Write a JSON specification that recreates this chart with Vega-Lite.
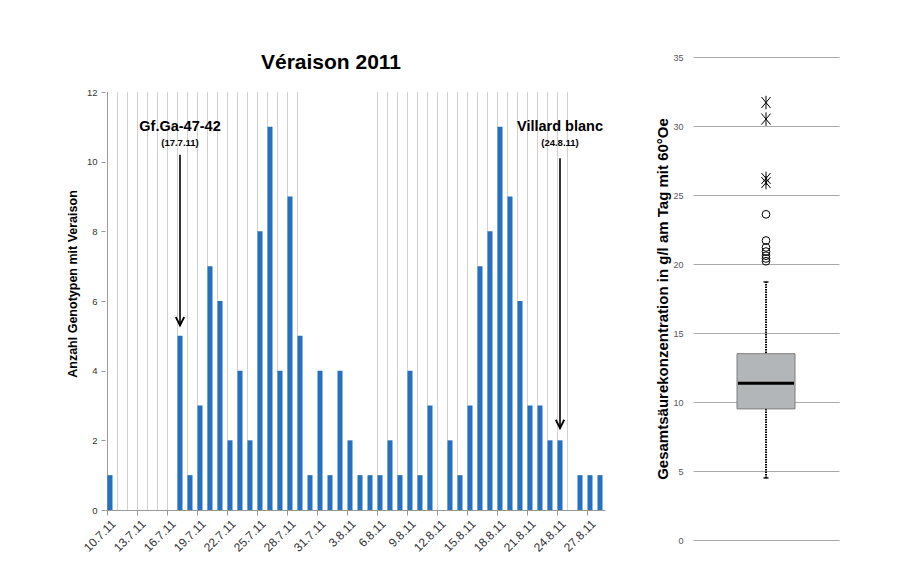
{
  "$schema": "https://vega.github.io/schema/vega-lite/v6.json",
  "background": "white",
  "padding": {"left": 66, "top": 52, "right": 5, "bottom": 5},
  "spacing": 47,
  "config": {
    "view": {"stroke": null},
    "font": "Liberation Sans",
    "axis": {"labelFont": "Liberation Sans", "titleFont": "Liberation Sans"}
  },
  "datasets": {
    "days": [
      {"date": "10.7.11", "n": 1}, {"date": "11.7.11", "n": 0}, {"date": "12.7.11", "n": 0}, {"date": "13.7.11", "n": 0},
      {"date": "14.7.11", "n": 0}, {"date": "15.7.11", "n": 0}, {"date": "16.7.11", "n": 0}, {"date": "17.7.11", "n": 5},
      {"date": "18.7.11", "n": 1}, {"date": "19.7.11", "n": 3}, {"date": "20.7.11", "n": 7}, {"date": "21.7.11", "n": 6},
      {"date": "22.7.11", "n": 2}, {"date": "23.7.11", "n": 4}, {"date": "24.7.11", "n": 2}, {"date": "25.7.11", "n": 8},
      {"date": "26.7.11", "n": 11}, {"date": "27.7.11", "n": 4}, {"date": "28.7.11", "n": 9}, {"date": "29.7.11", "n": 5},
      {"date": "30.7.11", "n": 1}, {"date": "31.7.11", "n": 4}, {"date": "1.8.11", "n": 1}, {"date": "2.8.11", "n": 4},
      {"date": "3.8.11", "n": 2}, {"date": "4.8.11", "n": 1}, {"date": "5.8.11", "n": 1}, {"date": "6.8.11", "n": 1},
      {"date": "7.8.11", "n": 2}, {"date": "8.8.11", "n": 1}, {"date": "9.8.11", "n": 4}, {"date": "10.8.11", "n": 1},
      {"date": "11.8.11", "n": 3}, {"date": "12.8.11", "n": 0}, {"date": "13.8.11", "n": 2}, {"date": "14.8.11", "n": 1},
      {"date": "15.8.11", "n": 3}, {"date": "16.8.11", "n": 7}, {"date": "17.8.11", "n": 8}, {"date": "18.8.11", "n": 11},
      {"date": "19.8.11", "n": 9}, {"date": "20.8.11", "n": 6}, {"date": "21.8.11", "n": 3}, {"date": "22.8.11", "n": 3},
      {"date": "23.8.11", "n": 2}, {"date": "24.8.11", "n": 2}, {"date": "25.8.11", "n": 0}, {"date": "26.8.11", "n": 1},
      {"date": "27.8.11", "n": 1}, {"date": "28.8.11", "n": 1}
    ],
    "notes": [
      {"date": "17.7.11", "name": "Gf.Ga-47-42", "when": "(17.7.11)", "top": 10.2, "tip": 5.3},
      {"date": "24.8.11", "name": "Villard blanc", "when": "(24.8.11)", "top": 10.1, "tip": 2.35}
    ],
    "box": [
      {"grp": "alle", "lo": 4.5, "q1": 9.5, "median": 11.35, "q3": 13.5, "hi": 18.7}
    ],
    "outliers": [
      {"grp": "alle", "v": 23.6, "kind": "Ausreißer"},
      {"grp": "alle", "v": 21.7, "kind": "Ausreißer"},
      {"grp": "alle", "v": 21.2, "kind": "Ausreißer"},
      {"grp": "alle", "v": 20.9, "kind": "Ausreißer"},
      {"grp": "alle", "v": 20.6, "kind": "Ausreißer"},
      {"grp": "alle", "v": 20.4, "kind": "Ausreißer"},
      {"grp": "alle", "v": 20.2, "kind": "Ausreißer"},
      {"grp": "alle", "v": 31.7, "kind": "Extremwert"},
      {"grp": "alle", "v": 30.5, "kind": "Extremwert"},
      {"grp": "alle", "v": 26.2, "kind": "Extremwert"},
      {"grp": "alle", "v": 25.9, "kind": "Extremwert"}
    ]
  },
  "hconcat": [
    {
      "width": 500,
      "height": 453,
      "title": {"text": "Véraison 2011", "fontSize": 21, "fontWeight": "bold", "font": "Liberation Sans", "color": "#000", "offset": -16, "dx": -24, "anchor": "middle"},
      "layer": [
        {
          "data": {"name": "days"},
          "transform": [{"filter": "indexof(['30.7.11','31.7.11','1.8.11','2.8.11','3.8.11','4.8.11','5.8.11','26.8.11','27.8.11','28.8.11'], datum.date) < 0"}],
          "mark": {"type": "rule", "strokeWidth": 1},
          "encoding": {
            "x": {"field": "date", "type": "ordinal", "bandPosition": 0},
            "y": {"datum": 0, "type": "quantitative"},
            "y2": {"datum": 12},
            "color": {"condition": {"test": "datum.date == '10.7.11'", "value": "#9a9a9a"}, "value": "#d2d2d2"}
          }
        },
        {
          "data": {"name": "days"},
          "mark": {"type": "bar", "color": "#2471c1"},
          "encoding": {
            "x": {
              "field": "date", "type": "ordinal",
              "scale": {
                "domain": ["10.7.11","11.7.11","12.7.11","13.7.11","14.7.11","15.7.11","16.7.11","17.7.11","18.7.11","19.7.11","20.7.11","21.7.11","22.7.11","23.7.11","24.7.11","25.7.11","26.7.11","27.7.11","28.7.11","29.7.11","30.7.11","31.7.11","1.8.11","2.8.11","3.8.11","4.8.11","5.8.11","6.8.11","7.8.11","8.8.11","9.8.11","10.8.11","11.8.11","12.8.11","13.8.11","14.8.11","15.8.11","16.8.11","17.8.11","18.8.11","19.8.11","20.8.11","21.8.11","22.8.11","23.8.11","24.8.11","25.8.11","26.8.11","27.8.11","28.8.11"],
                "paddingInner": 0.5, "paddingOuter": 0.25
              },
              "axis": {
                "title": null,
                "bandPosition": 0,
                "labelAngle": -45,
                "labelAlign": "right",
                "labelBaseline": "top",
                "labelOverlap": false,
                "labelFontSize": 12,
                "labelColor": "#333",
                "labelPadding": 3,
                "labelExpr": "indexof(['10.7.11','13.7.11','16.7.11','19.7.11','22.7.11','25.7.11','28.7.11','31.7.11','3.8.11','6.8.11','9.8.11','12.8.11','15.8.11','18.8.11','21.8.11','24.8.11','27.8.11'], datum.value) >= 0 ? datum.value : ''",
                "tickColor": "#999",
                "tickSize": 5,
                "tickOpacity": {"condition": {"test": "indexof(['10.7.11','13.7.11','16.7.11','19.7.11','22.7.11','25.7.11','28.7.11','31.7.11','3.8.11','6.8.11','9.8.11','12.8.11','15.8.11','18.8.11','21.8.11','24.8.11','27.8.11'], datum.value) >= 0", "value": 1}, "value": 0},
                "domainColor": "#999",
                "grid": false
              }
            },
            "y": {
              "field": "n", "type": "quantitative",
              "scale": {"domain": [0, 13.005], "nice": false},
              "axis": {
                "title": "Anzahl Genotypen mit Veraison",
                "titleFontSize": 12.5,
                "titleFontWeight": "bold",
                "titleColor": "#000",
                "titlePadding": 7,
                "values": [0, 2, 4, 6, 8, 10, 12],
                "labelFontSize": 9.5,
                "labelColor": "#333",
                "labelPadding": 4,
                "tickColor": "#999",
                "tickSize": 4,
                "domain": false,
                "gridColor": "#a8a8a8"
              }
            }
          }
        },
        {
          "data": {"name": "notes"},
          "mark": {"type": "rule", "color": "#000", "strokeWidth": 1.6},
          "encoding": {
            "x": {"field": "date", "type": "ordinal"},
            "y": {"field": "top", "type": "quantitative"},
            "y2": {"field": "tip"}
          }
        },
        {
          "data": {"name": "notes"},
          "mark": {"type": "point", "shape": "M-1,-2L0,0L1,-2", "filled": false, "stroke": "#000", "strokeWidth": 1.8, "size": 70, "opacity": 1},
          "encoding": {
            "x": {"field": "date", "type": "ordinal"},
            "y": {"field": "tip", "type": "quantitative"}
          }
        },
        {
          "data": {"name": "notes"},
          "mark": {"type": "text", "font": "Liberation Sans", "fontSize": 14.5, "fontWeight": "bold", "color": "#000", "baseline": "middle"},
          "encoding": {
            "x": {"field": "date", "type": "ordinal"},
            "y": {"datum": 11},
            "text": {"field": "name"}
          }
        },
        {
          "data": {"name": "notes"},
          "mark": {"type": "text", "font": "Liberation Sans", "fontSize": 9.5, "fontWeight": "bold", "color": "#000", "baseline": "middle"},
          "encoding": {
            "x": {"field": "date", "type": "ordinal"},
            "y": {"datum": 10.55},
            "text": {"field": "when"}
          }
        }
      ]
    },
    {
      "width": 146,
      "height": 483,
      "encoding": {
        "x": {"field": "grp", "type": "nominal", "axis": null}
      },
      "layer": [
        {
          "data": {"name": "box"},
          "mark": {"type": "rule", "color": "#000", "strokeWidth": 2, "strokeDash": [1.5, 1]},
          "encoding": {
            "y": {
              "field": "lo", "type": "quantitative",
              "scale": {"domain": [0, 35]},
              "axis": {
                "title": "Gesamtsäurekonzentration in g/l am Tag mit 60°Oe",
                "titleFontSize": 15,
                "titleFontWeight": "bold",
                "titleColor": "#000",
                "titlePadding": 2,
                "values": [0, 5, 10, 15, 20, 25, 30, 35],
                "labelFontSize": 9,
                "labelColor": "#555",
                "labelPadding": 10,
                "ticks": false,
                "domain": false,
                "gridColor": "#aaaaaa"
              }
            },
            "y2": {"field": "hi"}
          }
        },
        {
          "data": {"name": "box"},
          "mark": {"type": "tick", "color": "#000", "thickness": 2, "size": 5},
          "encoding": {"y": {"field": "lo", "type": "quantitative"}}
        },
        {
          "data": {"name": "box"},
          "mark": {"type": "tick", "color": "#000", "thickness": 2, "size": 5},
          "encoding": {"y": {"field": "hi", "type": "quantitative"}}
        },
        {
          "data": {"name": "box"},
          "mark": {"type": "bar", "fill": "#b3b6b9", "stroke": "#7d7d7d", "strokeWidth": 1, "size": 58},
          "encoding": {
            "y": {"field": "q1", "type": "quantitative"},
            "y2": {"field": "q3"}
          }
        },
        {
          "data": {"name": "box"},
          "mark": {"type": "tick", "color": "#000", "thickness": 3, "size": 56, "opacity": 1},
          "encoding": {"y": {"field": "median", "type": "quantitative"}}
        },
        {
          "data": {"name": "outliers"},
          "transform": [{"filter": "datum.kind == 'Ausreißer'"}],
          "mark": {"type": "point", "shape": "circle", "filled": false, "stroke": "#000", "strokeWidth": 1, "size": 60, "opacity": 1},
          "encoding": {"y": {"field": "v", "type": "quantitative"}}
        },
        {
          "data": {"name": "outliers"},
          "transform": [{"filter": "datum.kind == 'Extremwert'"}],
          "mark": {"type": "point", "shape": "M-0.75,-0.9L0.75,0.9M-0.75,0.9L0.75,-0.9M0,-1.1L0,1.1", "filled": false, "stroke": "#000", "strokeWidth": 1, "size": 150, "opacity": 1},
          "encoding": {"y": {"field": "v", "type": "quantitative"}}
        }
      ]
    }
  ]
}
